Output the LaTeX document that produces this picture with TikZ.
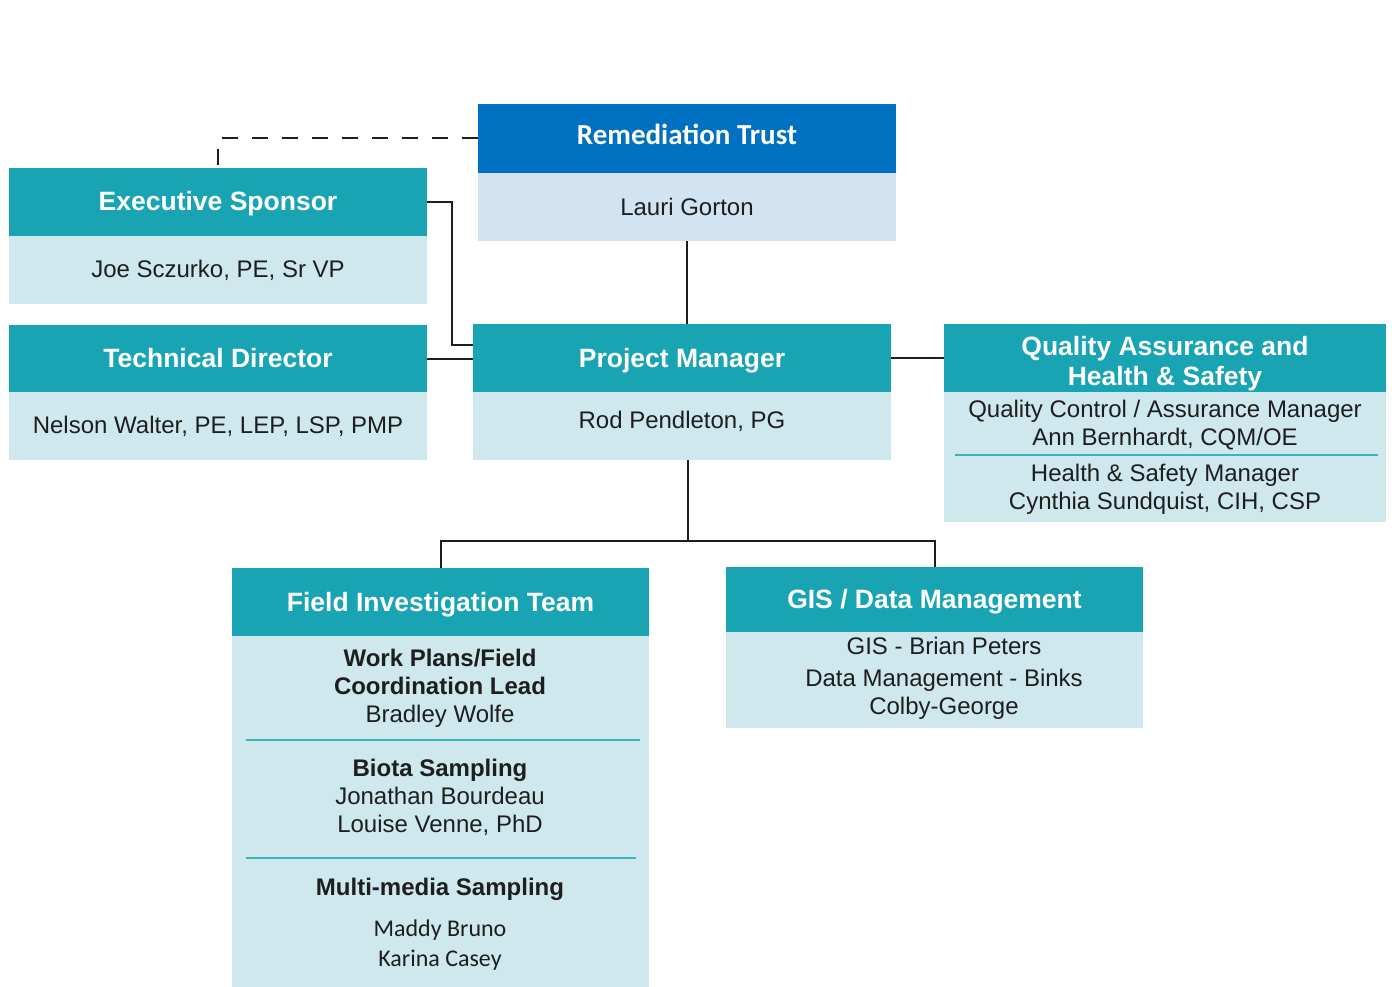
\documentclass[tikz,border=0pt]{standalone}
\usepackage{fontspec}
\setmainfont{Liberation Sans}
\newfontfamily\calib{Carlito}
\definecolor{teal}{RGB}{25,164,179}
\definecolor{pale}{RGB}{206,232,238}
\definecolor{trustblue}{RGB}{0,112,192}
\definecolor{trustpale}{RGB}{210,228,242}
\definecolor{ink}{RGB}{30,30,30}
\definecolor{rule}{RGB}{60,180,190}
\begin{document}
\begin{tikzpicture}[x=1pt,y=-1pt,
  hdr/.style={fill=teal,text=white,inner sep=0pt,align=center,
    text height=19pt,text depth=1pt,
    font=\bfseries\fontsize{26.5}{30}\selectfont},
  hdrtxt/.style={text=white,inner sep=0pt,align=center,
    font=\bfseries\fontsize{26.5}{30}\selectfont},
  bdy/.style={fill=pale,text=ink,inner sep=0pt,align=center,
    font=\fontsize{24}{28}\selectfont},
  txt/.style={text=ink,inner sep=0pt,align=center,
    font=\fontsize{24}{28}\selectfont},
  conn/.style={draw=ink,line width=2pt},
  dashline/.style={draw=ink,line width=2pt,dash pattern=on 16pt off 14pt},
  divider/.style={draw=rule,line width=2pt}]

\fill[white] (0,0) rectangle (1392,987);
\useasboundingbox (0,0) rectangle (1392,987);

% Remediation Trust
\node[hdr,fill=trustblue,minimum width=418,minimum height=69,
  text height=14pt,text depth=2.3pt,
  font=\calib\bfseries\fontsize{29}{34}\selectfont] (rth) at (687,138.5) {Remediation Trust};
\node[bdy,fill=trustpale,minimum width=418,minimum height=68] (rtb) at (687,207) {Lauri Gorton};

% Executive Sponsor
\node[hdr,minimum width=418,minimum height=68] (esh) at (218,202) {Executive Sponsor};
\node[bdy,minimum width=418,minimum height=68] (esb) at (218,270) {Joe Sczurko, PE, Sr VP};

% Technical Director
\node[hdr,minimum width=418,minimum height=67] (tdh) at (218,358.5) {Technical Director};
\node[bdy,minimum width=418,minimum height=68] (tdb) at (218,426) {Nelson Walter, PE, LEP, LSP, PMP};

% Project Manager
\node[hdr,minimum width=418,minimum height=68] (pmh) at (682,358) {Project Manager};
\node[bdy,minimum width=418,minimum height=68] (pmb) at (682,426) {};
\node[txt] (pmt) at (682,421) {Rod Pendleton, PG};

% Quality Assurance and Health & Safety
\node[hdr,minimum width=442,minimum height=68] (qah) at (1165,358) {};
\node[hdrtxt] (qat) at (1165,364) {Quality Assurance and\\Health \& Safety};
\node[bdy,minimum width=442,minimum height=130] (qab) at (1165,457) {};
\node[txt] (qa1) at (1165,425) {Quality Control / Assurance Manager\\Ann Bernhardt, CQM/OE};
\draw[divider] (955,455) -- (1378,455);
\node[txt] (qa2) at (1165,489) {Health \& Safety Manager\\Cynthia Sundquist, CIH, CSP};

% Field Investigation Team
\node[hdr,minimum width=417,minimum height=68] (fith) at (440.5,602) {Field Investigation Team};
\node[bdy,minimum width=417,minimum height=351] (fitb) at (440.5,811.5) {};
\node[txt] (fit1) at (440,688) {\textbf{Work Plans/Field}\\\textbf{Coordination Lead}\\Bradley Wolfe};
\draw[divider] (246,740) -- (640,740);
\node[txt] (fit2) at (440,797) {\textbf{Biota Sampling}\\Jonathan Bourdeau\\Louise Venne, PhD};
\draw[divider] (246,858) -- (636,858);
\node[txt] (fit3) at (440,889) {\textbf{Multi-media Sampling}};
\node[txt,font=\calib\fontsize{24}{30}\selectfont] (fit4) at (440,945) {Maddy Bruno\\Karina Casey};

% GIS / Data Management
\node[hdr,minimum width=417,minimum height=65] (gish) at (934.5,599.5) {GIS / Data Management};
\node[bdy,minimum width=417,minimum height=96] (gisb) at (934.5,680) {};
\node[txt] (gist) at (944,678) {GIS - Brian Peters\\[4pt]Data Management - Binks\\Colby-George};

% connectors
\draw[dashline] (rth.west) -| (esh.north);
\draw[conn] (esh.east) -- ++(25,0) |- ([yshift=13pt]pmh.west);
\draw[conn] (tdh.east) -- (tdh.east -| pmh.west);
\draw[conn] (rtb.south) -- (rtb.south |- pmh.north);
\draw[conn] (pmh.east) -- (pmh.east -| qah.west);
\coordinate (split) at (688,541);
\draw[conn] (split |- pmb.south) -- (split);
\draw[conn] (fith.north) -- (fith.north |- split) -- (gish.north |- split) -- (gish.north);
\end{tikzpicture}
\end{document}
